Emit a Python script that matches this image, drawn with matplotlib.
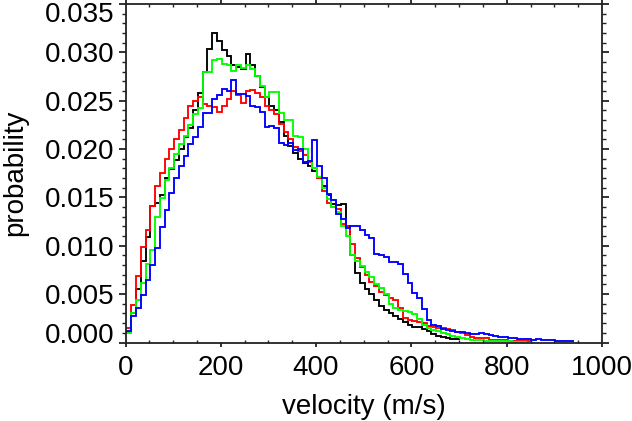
import numpy as np
import matplotlib
matplotlib.use("Agg")
import matplotlib.pyplot as plt
from matplotlib.ticker import FixedLocator, MultipleLocator
import matplotlib.transforms as mtransforms

plt.rcParams['font.family'] = ['Liberation Sans', 'DejaVu Sans']

# ---- data: step histograms of velocity, 10 m/s bins ----
bin_width = 10.0
bin_start = 2.0

black = [0.0011, 0.0030, 0.0055, 0.0084, 0.0109, 0.0141, 0.0144, 0.0152, 0.0170, 0.0179,
         0.0189, 0.0200, 0.0212, 0.0222, 0.0240, 0.0258, 0.0280, 0.0303, 0.0320, 0.0312,
         0.0302, 0.0296, 0.0287, 0.0285, 0.0283, 0.0298, 0.0287, 0.0276, 0.0264, 0.0254,
         0.0245, 0.0240, 0.0228, 0.0214, 0.0203, 0.0196, 0.0190, 0.0186, 0.0182, 0.0177,
         0.0170, 0.0162, 0.0153, 0.0143, 0.0142, 0.0143, 0.0120, 0.0090, 0.0072, 0.0062,
         0.0055, 0.0050, 0.0044, 0.0038, 0.0034, 0.0030, 0.0027, 0.0024, 0.0021, 0.0018,
         0.0016, 0.0016, 0.0014, 0.0012, 0.0009, 0.0007, 0.0006, 0.0005, 0.0004, 0.0004]

red = [0.0015, 0.0039, 0.0069, 0.0099, 0.0116, 0.0141, 0.0162, 0.0175, 0.0190, 0.0200,
       0.0210, 0.0220, 0.0232, 0.0245, 0.0250, 0.0254, 0.0247, 0.0245, 0.0243, 0.0238,
       0.0245, 0.0252, 0.0260, 0.0256, 0.0248, 0.0260, 0.0261, 0.0258, 0.0254, 0.0245,
       0.0240, 0.0236, 0.0226, 0.0218, 0.0210, 0.0202, 0.0198, 0.0194, 0.0187, 0.0180,
       0.0170, 0.0157, 0.0144, 0.0140, 0.0138, 0.0123, 0.0120, 0.0102, 0.0087, 0.0078,
       0.0070, 0.0063, 0.0058, 0.0052, 0.0049, 0.0046, 0.0044, 0.0036, 0.0025, 0.0023,
       0.0022, 0.0021, 0.0020, 0.0017, 0.0016, 0.0015, 0.0015, 0.0014, 0.0013, 0.0011,
       0.0010, 0.0008, 0.0006, 0.0005, 0.0005, 0.0005, 0.0003, 0.0003, 0.0003, 0.0003,
       0.0002, 0.0002, 0.0002, 0.0002, 0.0002]

green = [0.0010, 0.0030, 0.0044, 0.0062, 0.0081, 0.0096, 0.0130, 0.0149, 0.0168, 0.0180,
         0.0195, 0.0205, 0.0214, 0.0225, 0.0236, 0.0242, 0.0280, 0.0280, 0.0292, 0.0293,
         0.0288, 0.0287, 0.0281, 0.0287, 0.0284, 0.0287, 0.0283, 0.0276, 0.0265, 0.0254,
         0.0259, 0.0259, 0.0237, 0.0230, 0.0230, 0.0214, 0.0212, 0.0200, 0.0188, 0.0180,
         0.0171, 0.0160, 0.0148, 0.0140, 0.0135, 0.0120, 0.0110, 0.0090, 0.0084, 0.0079,
         0.0073, 0.0068, 0.0060, 0.0056, 0.0050, 0.0040, 0.0036, 0.0034, 0.0033, 0.0032,
         0.0029, 0.0024, 0.0018, 0.0015, 0.0013, 0.0012, 0.0010, 0.0009, 0.0007, 0.0006,
         0.0005, 0.0004, 0.0003, 0.0003, 0.0003, 0.0002, 0.0002, 0.0002, 0.0002, 0.0002,
         0.0002, 0.0001, 0.0001, 0.0001]

blue = [0.0012, 0.0027, 0.0036, 0.0049, 0.0065, 0.0080, 0.0098, 0.0119, 0.0137, 0.0155,
        0.0170, 0.0182, 0.0193, 0.0205, 0.0212, 0.0223, 0.0237, 0.0237, 0.0252, 0.0256,
        0.0262, 0.0260, 0.0271, 0.0257, 0.0257, 0.0255, 0.0245, 0.0243, 0.0238, 0.0223,
        0.0224, 0.0222, 0.0206, 0.0204, 0.0206, 0.0199, 0.0200, 0.0187, 0.0188, 0.0209,
        0.0183, 0.0170, 0.0154, 0.0147, 0.0133, 0.0128, 0.0118, 0.0120, 0.0120, 0.0116,
        0.0111, 0.0108, 0.0092, 0.0090, 0.0088, 0.0083, 0.0083, 0.0081, 0.0071, 0.0062,
        0.0051, 0.0046, 0.0035, 0.0023, 0.0018, 0.0017, 0.0014, 0.0013, 0.0012, 0.0011,
        0.0011, 0.0010, 0.0009, 0.0009, 0.0010, 0.0009, 0.0008, 0.0007, 0.0006, 0.0006,
        0.0005, 0.0005, 0.0004, 0.0004, 0.0004, 0.0003, 0.0004, 0.0003, 0.0003, 0.0003,
        0.0002, 0.0002, 0.0002, 0.0002]

series = [("black", black), ("red", red), ("green", green), ("blue", blue)]
colors = {"black": "#000000", "red": "#ff0000", "green": "#00ff00", "blue": "#0000ff"}

x_ticks = [0, 200, 400, 600, 800, 1000]
y_ticks = [0.000, 0.005, 0.010, 0.015, 0.020, 0.025, 0.030, 0.035]
x_label = "velocity (m/s)"
y_label = "probability"

# ---- figure ----
fig = plt.figure(figsize=(6.32, 4.21), dpi=100)
W, H = 632, 421
left, right, bottom, top = 125.5, 602.0, 342.5, 4.0
ax = fig.add_axes([left / W, 1 - bottom / H, (right - left) / W, (bottom - top) / H])

for name, vals in series:
    vals = np.asarray(vals)
    edges = bin_start + bin_width * np.arange(len(vals) + 1)
    ax.stairs(vals, edges, baseline=None, color=colors[name], linewidth=1.35)

ax.set_xlim(0, 1000)
ax.set_ylim(0, 0.035)

ax.xaxis.set_major_locator(FixedLocator(x_ticks))
ax.xaxis.set_minor_locator(MultipleLocator(50))
ax.yaxis.set_major_locator(FixedLocator(y_ticks))
ax.yaxis.set_minor_locator(MultipleLocator(0.001))
ax.set_xticklabels([str(t) for t in x_ticks])
ax.set_yticklabels(["%.3f" % t for t in y_ticks])

for sp in ax.spines.values():
    sp.set_linewidth(1.3)
    sp.set_color("#222222")

FS = 20
ax.tick_params(axis='y', which='both', direction='out', left=True, right=True,
               labelsize=FS, pad=3, color="#222222")
ax.tick_params(axis='y', which='major', length=5, width=1.3)
ax.tick_params(axis='y', which='minor', length=3, width=1.0)
ax.tick_params(axis='x', which='both', bottom=True, top=True, labelsize=FS, pad=6,
               color="#222222")
ax.tick_params(axis='x', which='major', direction='out', length=3, width=1.3)
ax.tick_params(axis='x', which='minor', direction='in', length=2, width=1.0)

ax.set_xlabel(x_label, fontsize=FS, labelpad=9)
ax.set_ylabel(y_label, fontsize=FS, labelpad=12)

fig.canvas.draw()
yt = ax.yaxis.get_major_ticks()
yt[0].label1.set_transform(yt[0].label1.get_transform() +
                           mtransforms.ScaledTranslation(0, 7 / 72, fig.dpi_scale_trans))
yt[-1].label1.set_transform(yt[-1].label1.get_transform() +
                            mtransforms.ScaledTranslation(0, -6 / 72, fig.dpi_scale_trans))

fig.savefig("out.png", dpi=100)
